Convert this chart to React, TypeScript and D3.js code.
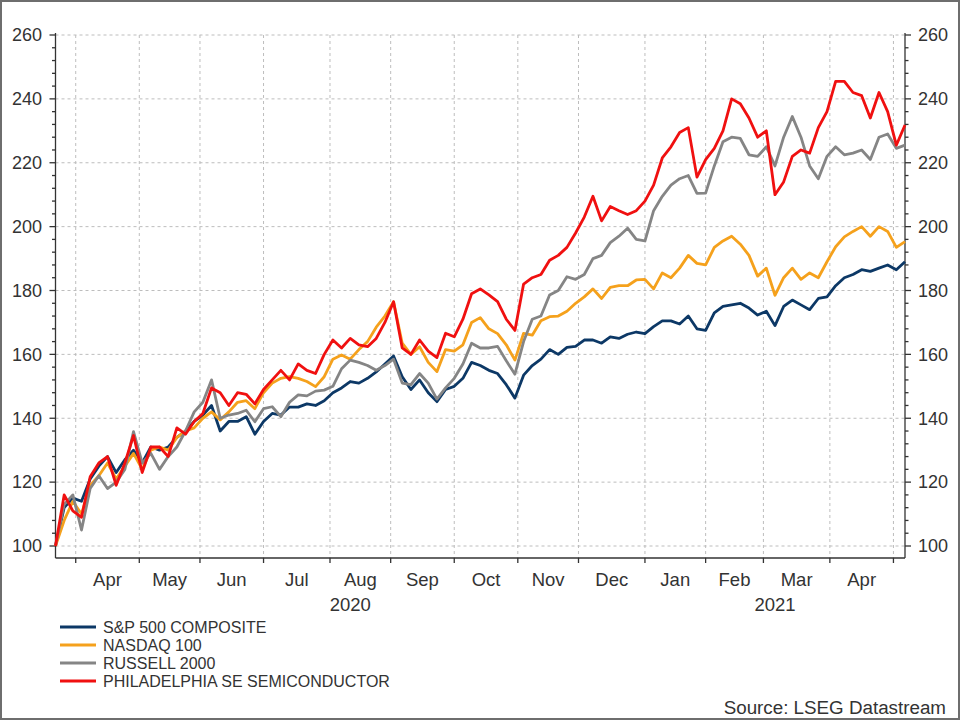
import React, {useEffect, useRef} from 'react';
import * as d3 from 'd3';

// Rebased index levels (23 Mar 2020 = 100), one reading every 3rd weekday
const startDate = new Date(2020, 2, 23);
const endDate = new Date(2021, 4, 7);
const sampleStep = 3;

const spx = [100, 112, 115, 114, 121, 125, 128, 123, 127, 130,
  126, 131, 130, 131, 134, 136, 139, 141, 144, 136,
  139, 139, 140.5, 135, 139, 141.5, 141, 143.5, 143.5, 144.5,
  144, 145.5, 148, 149.5, 151.5, 151, 152.5, 154.5, 157, 159.5,
  153, 149, 152, 148, 145.2, 149, 150, 152.5, 157.5, 156.5,
  155, 154, 150.5, 146.3, 153.5, 156.5, 158.5, 161.5, 160, 162.2,
  162.5, 164.5, 164.5, 163.5, 165.5, 165, 166.3, 167, 166.5, 168.7,
  170.5, 170.5, 169.5, 172, 168, 167.5, 173, 175, 175.5, 176,
  174.5, 172.3, 173.5, 169, 175, 177, 175.5, 174, 177.5, 178,
  181.5, 184, 185, 186.5, 186, 187, 188, 186.5, 189];

const ndx = [100, 108, 114, 110, 119, 122, 126, 121, 125, 129,
  124, 130, 131, 130, 134, 136, 137, 140, 142, 139.5,
  142, 145, 145.5, 143, 148, 151, 152.5, 153, 152.5, 151.5,
  149.9, 153, 158.5, 159.8, 158.5, 161.5, 164, 168.5, 172, 176.5,
  163.5, 160, 162.4, 157.5, 154.6, 161.5, 161, 163, 170, 171.5,
  168, 166.5, 163, 158.2, 166.6, 166, 170.5, 171.8, 172, 173.5,
  176, 178, 180.5, 177.5, 181, 181.5, 181.5, 183.3, 183.5, 180.5,
  185.5, 184, 187, 191, 188.5, 188, 193.5, 195.5, 197, 194.5,
  191, 184.5, 187, 178.5, 184, 187, 183.5, 185.5, 184, 189,
  193.7, 196.8, 198.5, 200, 197, 200, 198.5, 193.5, 195.3];

const rut = [100, 113, 116, 105, 118, 122, 118, 120, 124, 135.8,
  126, 129, 124, 128, 131, 136, 142, 145, 152, 140,
  141, 141.5, 142.5, 138.9, 143, 143.6, 140.5, 145, 147.3, 147,
  148.5, 148.8, 150, 155.5, 158.2, 157.5, 156.5, 155, 156.5, 158.5,
  151, 150.5, 154, 151, 146, 149.5, 152.5, 157, 163.5, 162,
  162, 162.5, 158, 153.8, 164, 171, 172, 178.6, 180, 184.3,
  183.5, 185, 190, 191, 195, 197, 199.5, 196, 195.5, 205,
  209.5, 213, 215, 216, 210.4, 210.5, 219, 226.6, 228, 227.6,
  222.5, 222, 225, 219, 228, 234.5, 228, 219, 215, 222,
  225, 222.5, 223, 224, 221, 228, 229, 224.5, 225.5];

const sox = [100, 116, 111, 109, 121.7, 126, 128, 119, 126, 134.6,
  123, 131, 131, 128, 137, 135, 139, 141.5, 149.5, 148,
  144, 148, 147.5, 144.5, 149, 152, 155, 152, 157, 155,
  154, 160, 164.5, 162, 165, 163, 162.4, 165, 170, 176.5,
  162, 160, 164.5, 161, 159, 166.6, 165.5, 171, 179, 180.5,
  178.6, 176.5, 171, 167.5, 182, 184, 185, 189.5, 191, 193.5,
  198, 203, 209.5, 201.8, 206.3, 205, 203.8, 205, 208, 213,
  221.5, 225, 229.5, 231, 215.5, 221, 224.5, 230, 240, 238.5,
  234, 228, 230, 210, 214, 222, 224, 223, 231, 236,
  245.5, 245.5, 242, 241, 234, 242, 236, 225.5, 231.8];

const seriesNames = ["S&P 500 COMPOSITE", "NASDAQ 100", "RUSSELL 2000", "PHILADELPHIA SE SEMICONDUCTOR"];
const seriesColors = ["#0c3866", "#f5a11c", "#858585", "#f01010"];
const yTicks = [100, 120, 140, 160, 180, 200, 220, 240, 260];
const sourceText = "Source: LSEG Datastream";

const FONT = "'Liberation Sans', Arial, sans-serif";

interface Point {
  i: number
  v: number
}

export default function App() {
  const ref = useRef<SVGSVGElement>(null);
  const width = 960;
  const height = 720;

  useEffect(() => {
    const svg = d3.select(ref.current);
    svg.selectAll("*").remove();

    // business days only
    const days = d3.timeDay.range(startDate, d3.timeDay.offset(endDate, 1))
    .filter(d => d.getDay() !== 0 && d.getDay() !== 6);
    const last = days.length - 1;

    const left = 55.5, right = 905, top = 35, bottom = 558;
    const x = d3.scaleLinear([0, last], [left, right]);
    const y = d3.scaleLinear([100, 260], [546, top]);

    svg.append("rect").attr("width", width).attr("height", height).attr("fill", "white");
    svg.append("rect").attr("x", 1).attr("y", 1).attr("width", width - 2).attr("height", height - 2)
    .attr("fill", "none").attr("stroke", "#6e6e6e").attr("stroke-width", 2);

    // month boundaries = first business day of each month
    const monthStarts: number[] = [];
    days.forEach((d, i) => {
      if (i > 0 && d.getMonth() !== days[i - 1].getMonth()) monthStarts.push(i);
    });

    // grid
    svg.append("g").selectAll("line").data(yTicks).join("line")
    .attr("x1", left).attr("x2", right)
    .attr("y1", d => y(d)).attr("y2", d => y(d))
    .attr("stroke", "#bdbdbd").attr("stroke-dasharray", "3,3");
    svg.append("g").selectAll("line").data(monthStarts).join("line")
    .attr("x1", d => x(d)).attr("x2", d => x(d))
    .attr("y1", top).attr("y2", bottom)
    .attr("stroke", "#bdbdbd").attr("stroke-dasharray", "3,3");

    // y axes, both sides
    const minor = d3.range(104, 260, 4).filter(v => v % 20 !== 0);
    const axisG = svg.append("g").attr("stroke", "#333").attr("stroke-width", 1.3);
    axisG.append("line").attr("x1", left).attr("x2", left).attr("y1", top - 2).attr("y2", bottom);
    axisG.append("line").attr("x1", right).attr("x2", right).attr("y1", top - 2).attr("y2", bottom);
    axisG.append("line").attr("x1", left).attr("x2", right).attr("y1", bottom).attr("y2", bottom);
    [left, right].forEach((ax, side) => {
      const dir = side === 0 ? -1 : 1;
      axisG.append("g").selectAll("line").data(yTicks).join("line")
      .attr("x1", ax).attr("x2", ax + dir * 6).attr("y1", d => y(d)).attr("y2", d => y(d));
      axisG.append("g").selectAll("line").data(minor).join("line")
      .attr("x1", ax).attr("x2", ax + dir * 3.5).attr("y1", d => y(d)).attr("y2", d => y(d));
      svg.append("g").selectAll("text").data(yTicks).join("text")
      .attr("x", side === 0 ? 42 : 918)
      .attr("y", d => y(d))
      .attr("dy", "0.35em")
      .attr("text-anchor", side === 0 ? "end" : "start")
      .attr("font-family", FONT).attr("font-size", 18).attr("fill", "#333")
      .text(d => d);
    });

    // x ticks + month labels centred in each full month
    axisG.append("g").selectAll("line").data(monthStarts).join("line")
    .attr("x1", d => x(d)).attr("x2", d => x(d)).attr("y1", bottom).attr("y2", bottom + 5);
    const fmt = d3.timeFormat("%b");
    const monthLabels = monthStarts.slice(0, -1).map((s, j) => ({
      pos: (x(s) + x(monthStarts[j + 1])) / 2,
      text: fmt(days[s])
    }));
    svg.append("g").selectAll("text").data(monthLabels).join("text")
    .attr("x", d => d.pos).attr("y", 580).attr("dy", "0.35em")
    .attr("text-anchor", "middle")
    .attr("font-family", FONT).attr("font-size", 18.5).attr("fill", "#333")
    .text(d => d.text);

    const yearStart = days.findIndex(d => d.getFullYear() === 2021);
    const years = [
      {pos: (x(0) + x(yearStart)) / 2, text: "2020"},
      {pos: (x(yearStart) + x(last)) / 2, text: "2021"}
    ];
    svg.append("g").selectAll("text").data(years).join("text")
    .attr("x", d => d.pos).attr("y", 605).attr("dy", "0.35em")
    .attr("text-anchor", "middle")
    .attr("font-family", FONT).attr("font-size", 18.5).attr("fill", "#333")
    .text(d => d.text);

    // series lines
    const line = d3.line<Point>().x(d => x(d.i)).y(d => y(d.v));
    [spx, ndx, rut, sox].forEach((vals, s) => {
      const pts = vals.map((v, k) => ({i: k * sampleStep, v}));
      svg.append("path")
      .attr("fill", "none")
      .attr("stroke", seriesColors[s])
      .attr("stroke-width", 2.8)
      .attr("stroke-linejoin", "round")
      .attr("d", line(pts));
    });

    // legend
    const lg = svg.append("g").selectAll("g").data(seriesNames).join("g")
    .attr("transform", (_, j) => `translate(0,${627 + j * 18})`);
    lg.append("line").attr("x1", 60).attr("x2", 96)
    .attr("stroke", (_, j) => seriesColors[j]).attr("stroke-width", 3.2);
    lg.append("text").attr("x", 103).attr("dy", "0.35em")
    .attr("font-family", FONT).attr("font-size", 16).attr("fill", "#333")
    .text(d => d);

    svg.append("text").attr("x", 946).attr("y", 707).attr("dy", "0.35em")
    .attr("text-anchor", "end")
    .attr("font-family", FONT).attr("font-size", 18.8).attr("fill", "#333")
    .text(sourceText);
  }, []);

  return <div style={{position: "absolute", left: 0, top: 0}}>
    <svg ref={ref} width={width} height={height} style={{display: "block"}}/>
  </div>;
}
